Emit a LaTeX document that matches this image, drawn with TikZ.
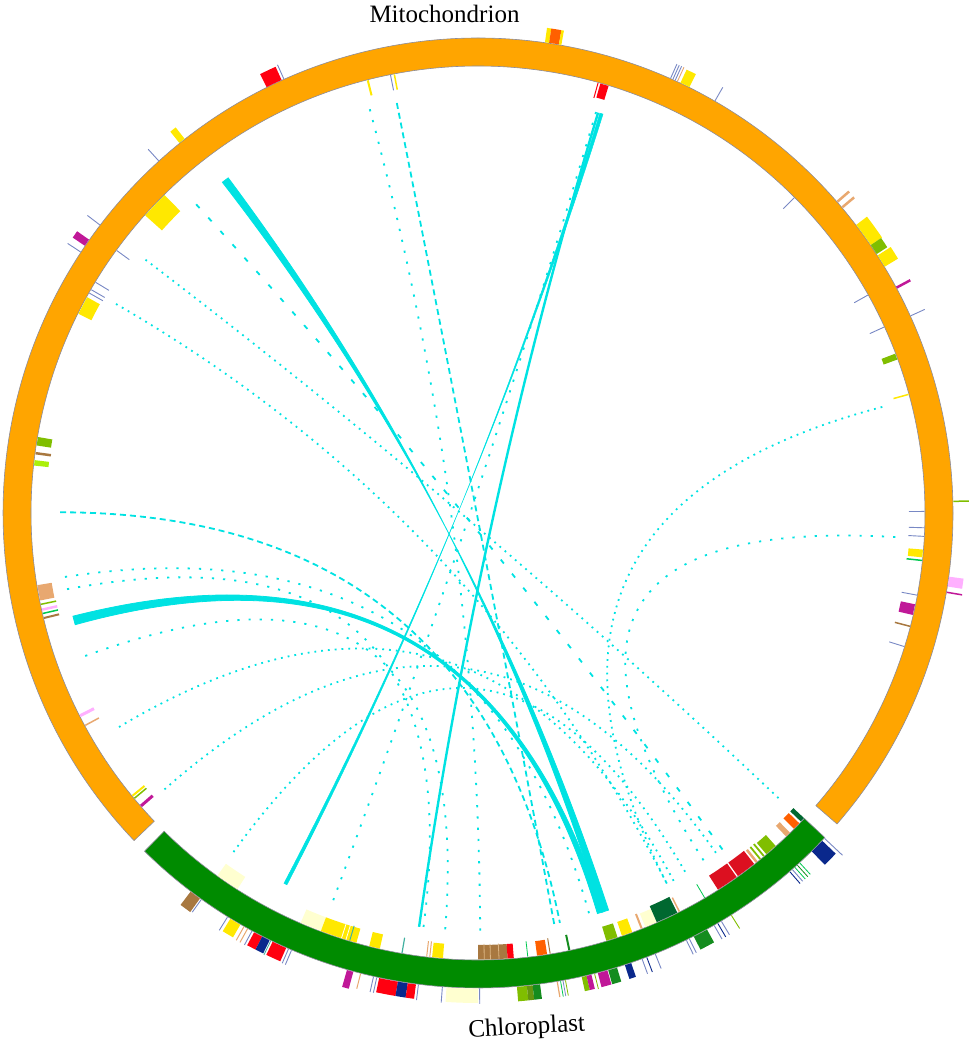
\documentclass[tikz,border=0pt]{standalone}
\usepackage{fontspec}
\setmainfont{Liberation Serif}
\definecolor{orng}{RGB}{255,165,0}
\definecolor{grn}{RGB}{0,139,0}
\definecolor{grn2}{RGB}{20,140,30}
\definecolor{cy}{RGB}{0,226,226}
\definecolor{yel}{RGB}{255,232,0}
\definecolor{redm}{RGB}{255,0,16}
\definecolor{dred}{RGB}{220,16,32}
\definecolor{mag}{RGB}{192,24,152}
\definecolor{tblue}{RGB}{120,136,196}
\definecolor{dblue}{RGB}{10,40,140}
\definecolor{ygrn}{RGB}{128,190,0}
\definecolor{chart}{RGB}{170,240,10}
\definecolor{tanm}{RGB}{232,168,112}
\definecolor{brn}{RGB}{168,120,64}
\definecolor{lbrn}{RGB}{220,180,130}
\definecolor{pnk}{RGB}{255,176,255}
\definecolor{lyel}{RGB}{255,255,208}
\definecolor{dgrn}{RGB}{0,104,48}
\definecolor{ored}{RGB}{255,96,0}
\definecolor{teal2}{RGB}{64,176,160}
\definecolor{olv}{RGB}{100,150,16}
\definecolor{bgrn}{RGB}{0,200,80}
\definecolor{ringline}{RGB}{140,140,155}
\newcommand\annsec[5]{\fill[#5] (#1:#3pt) arc[start angle=#1,end angle=#2,radius=#3pt] -- (#2:#4pt) arc[start angle=#2,end angle=#1,radius=#4pt] -- cycle;}
\newcommand\om[3]{\annsec{#1}{#2}{475.5}{490}{#3}}
\newcommand\omr[4]{\annsec{#1}{#2}{475.5}{#3}{#4}}
\newcommand\imk[3]{\annsec{#1}{#2}{446.5}{432}{#3}}
\newcommand\imr[4]{\annsec{#1}{#2}{446.5}{#3}{#4}}
\newcommand\otk[3][0.9]{\draw[#3,line width=#1pt] (#2:475.5pt) -- (#2:491pt);}
\newcommand\itk[3][0.9]{\draw[#3,line width=#1pt] (#2:446.5pt) -- (#2:431pt);}
\newcommand\lnk[3]{\draw[#3] (#1:418pt) .. controls (#1:139.3pt) and (#2:139.3pt) .. (#2:418pt);}
\newcommand\rib[5]{\filldraw[#5] (#1:418pt) .. controls (#1:139.3pt) and (#3:139.3pt) .. (#3:418pt) arc[start angle=#3,end angle=#4,radius=418pt] .. controls (#4:139.3pt) and (#2:139.3pt) .. (#2:418pt) arc[start angle=#2,end angle=#1,radius=418pt] -- cycle;}
\tikzset{
  dotA/.style={cy,line width=1.8pt,dash pattern=on 1.8pt off 5pt},
  dotB/.style={cy,line width=1.8pt,dash pattern=on 2.2pt off 9pt},
  dashA/.style={cy,line width=1.8pt,dash pattern=on 6pt off 4pt},
  dashB/.style={cy,line width=1.8pt,dash pattern=on 5pt off 13pt},
  ribbon/.style={cy,draw=cy,line width=0.8pt},
  thinribbon/.style={cy,draw=cy,line width=0.5pt},
  ringstyle/.style={draw=ringline,line width=0.6pt},
  lbl/.style={font=\fontsize{25}{30}\selectfont,inner sep=0pt}
}
\begin{document}
\begin{tikzpicture}[x=1pt,y=1pt]
\useasboundingbox (0,0) rectangle (969,1041);
\node[lbl,anchor=base] (mito) at (444.5,1018) {Mitochondrion};
\node[lbl,anchor=base,rotate=3] (chlo) at (527,7) {Chloroplast};
\begin{scope}[shift={(478,528)}]
% ---- links ----
\lnk{179.9}{281.3}{dashA}
\lnk{188.8}{285.5}{dotB}
\lnk{210.8}{298}{dotA}
\lnk{221.4}{305}{dotA}
\lnk{132.4}{306}{dashB}
\lnk{142.7}{316.5}{dotA}
\lnk{150}{297}{dotA}
\lnk{101.2}{280.5}{dashA}
\lnk{73.6}{249.5}{dotB}
\lnk{14.7}{297}{dotA}
\lnk{-3.3}{303}{dotB}
\lnk{234.2}{300}{dotA}
\lnk{105}{270.3}{dotB}
\lnk{190.5}{262.5}{dotB}
\lnk{200}{265.5}{dotB}
\rib{126.7}{127.7}{287.2}{288.2}{ribbon}
\rib{194.3}{195.5}{287.4}{286.6}{ribbon}
\rib{72.6}{73.05}{242.35}{242.8}{thinribbon}
\lnk{73.3}{261.9}{cy,line width=2.4pt}
% ---- rings ----
\filldraw[orng,ringstyle] (-40.9:475pt) arc[start angle=-40.9,end angle=223.6,radius=475pt] -- (223.6:447pt) arc[start angle=223.6,end angle=-40.9,radius=447pt] -- cycle;
\filldraw[grn,ringstyle] (225.4:475pt) arc[start angle=225.4,end angle=316.9,radius=475pt] -- (316.9:447pt) arc[start angle=316.9,end angle=225.4,radius=447pt] -- cycle;
% ---- mitochondrion outer marks ----
\om{114.4}{116.4}{redm} \otk{114.1}{tblue}
\om{81.4}{81.9}{yel} \om{80.2}{81.4}{ored} \om{79.9}{80.2}{yel}
\otk{66.1}{tblue}\otk{65.8}{tblue}\otk{65.5}{tblue}\otk{65.2}{tanm}
\om{63.6}{64.8}{yel}
\otk{60.1}{tblue}
\om{128.1}{128.9}{yel}
\otk{132.2}{tblue}
\otk{142.7}{tblue}
\om{144.9}{145.8}{mag}
\otk{146.7}{tblue}
\otk[2.5]{40.9}{tanm} \otk[2.5]{40.0}{tanm}
\omr{34.3}{37.3}{489}{yel} \omr{33.0}{34.3}{488}{ygrn} \omr{31.2}{32.8}{491}{yel}
\otk[2.5]{28.3}{mag}
\otk{24.5}{tblue}
\otk[1.5]{1.4}{ygrn}
\om{-8.9}{-7.7}{pnk}
\otk[1.5]{-9.6}{mag}
% ---- mitochondrion inner marks ----
\itk[2]{104.3}{yel}
\itk{101.3}{tblue} \itk[1.5]{100.8}{yel}
\itk[1]{74.4}{redm} \imk{73.0}{74.1}{redm}
\imr{134.6}{138.2}{424}{yel}
\itk{144}{tblue}
\itk{148.9}{tblue}\itk{150}{tblue}\itk{150.5}{tblue}
\imk{151.1}{153.5}{yel}
\imk{170.2}{171.3}{ygrn}
\itk[2.5]{172.3}{brn}
\imk{173.2}{173.9}{chart}
\imk{189.3}{191.3}{tanm}
\itk[1.5]{191.8}{ygrn} \itk[2.5]{192.5}{pnk} \itk[1.5]{193.0}{bgrn} \itk[2]{193.6}{brn}
\itk[3]{207}{pnk} \itk[1.5]{208.4}{tanm}
\itk[2]{219.3}{yel} \itk[1.5]{219.7}{ygrn} \itk[3]{221}{mag}
\itk{44.9}{tblue} \itk{29.2}{tblue} \itk{24.6}{tblue}
\imk{20.1}{20.9}{ygrn}
\itk[1.5]{15.4}{yel}
\itk{0.2}{tblue}\itk{-1.9}{tblue}\itk{-3.0}{tblue}
\imk{-5.7}{-4.7}{yel} \itk[1.5]{-6.1}{bgrn}
\itk{-10.6}{tblue} \imk{-13.2}{-11.8}{mag} \itk[1.5]{-14.7}{brn} \itk{-17.4}{tblue}
% ---- chloroplast inner marks ----
\imk{234.3}{237.4}{lyel}
\imk{246.6}{249.4}{lyel}
\imk{249.4}{254.2}{yel} \itk[0.8]{252.2}{white} \itk[0.8]{252.8}{white} \itk[1]{253.3}{teal2}
\imk{255.9}{257.3}{yel}
\itk[1.2]{260.2}{teal2}
\itk[1]{263.4}{tanm}\itk[1]{263.8}{tanm}
\imk{264.1}{265.5}{yel}
\imk{270}{273.8}{brn} \itk[0.8]{270.8}{lbrn} \itk[0.8]{271.6}{lbrn} \itk[0.8]{272.7}{lbrn}
\imk{273.8}{274.6}{redm}
\itk[0.8]{276.4}{bgrn}
\imk{277.6}{278.9}{ored}
\itk[1]{279.3}{brn}
\itk[2]{281.8}{grn2}
\imk{286.7}{288.2}{ygrn}
\imk{288.8}{290.2}{yel}
\itk[2]{291.5}{tanm}
\imk{292.0}{293.6}{lyel}
\imr{293.6}{296.5}{429}{dgrn}
\itk[1.5]{296.8}{tanm}
\itk[0.8]{300.5}{bgrn}
\imr{302.5}{305.4}{430}{dred} \imr{305.6}{308.2}{430}{dred}
\itk[2.5]{308.6}{tanm}
\itk[1.8]{309.2}{ygrn} \itk[1.8]{309.8}{ygrn}
\imk{310.2}{311.8}{ygrn}
\imk{313.6}{314.3}{tanm}
\imk{315.0}{316.0}{ored}
\imk{316.3}{316.9}{dgrn}
% ---- chloroplast outer marks ----
\omr{232.8}{234.2}{492}{brn} \otk{234.4}{tblue}
\otk{238.2}{tblue} \om{238.6}{240.0}{yel} \otk[1]{240.5}{tanm}\otk[1]{241.0}{tanm}
\otk{241.6}{tblue} \om{241.9}{243.0}{redm} \om{243.0}{244.0}{dblue} \otk[0.8]{244.15}{teal2} \om{244.4}{246.2}{redm} \otk{246.5}{tblue}\otk{246.9}{tblue}
\omr{254.0}{254.8}{493}{mag} \otk[1]{255.7}{tanm}
\otk{257.3}{tblue}\otk{257.7}{tblue} \om{258.0}{260.3}{redm} \om{260.3}{261.5}{dblue} \om{261.5}{262.5}{redm} \otk{262.8}{tblue}
\otk{265.7}{tblue}
\om{266.2}{270.0}{lyel} \otk{270.2}{tblue}
\om{274.7}{275.9}{ygrn} \om{275.9}{276.6}{olv} \om{276.6}{277.5}{grn2}
\otk[1.2]{279.6}{tanm}\otk[0.8]{280.0}{bgrn}\otk[0.8]{280.3}{tblue}\otk[0.8]{280.6}{ygrn}
\om{282.6}{283.2}{ygrn} \om{283.2}{283.8}{mag} \otk[0.8]{284.2}{ygrn} \om{284.6}{285.8}{mag} \om{285.9}{287.0}{grn2}
\om{288.0}{288.8}{dblue}
\otk{290.2}{tblue}\otk{290.8}{dblue}\otk{291.9}{tblue}
\otk{296.0}{tblue}\otk{296.4}{tblue}
\om{297.0}{298.8}{grn2}
\otk{299.8}{tblue}\otk{300.3}{dblue}\otk{300.8}{tblue}
\otk{302.2}{ygrn}
\otk{311.0}{dblue}\otk{311.4}{tblue}\otk[0.8]{311.8}{bgrn}\otk[0.8]{312.2}{grn2}\otk[0.8]{312.6}{bgrn}
\omr{314.6}{316.4}{494}{dblue}
\draw[tblue,line width=0.9pt] (316.8:475.5pt) -- (316.8:500pt);
\end{scope}
\end{tikzpicture}
\end{document}
